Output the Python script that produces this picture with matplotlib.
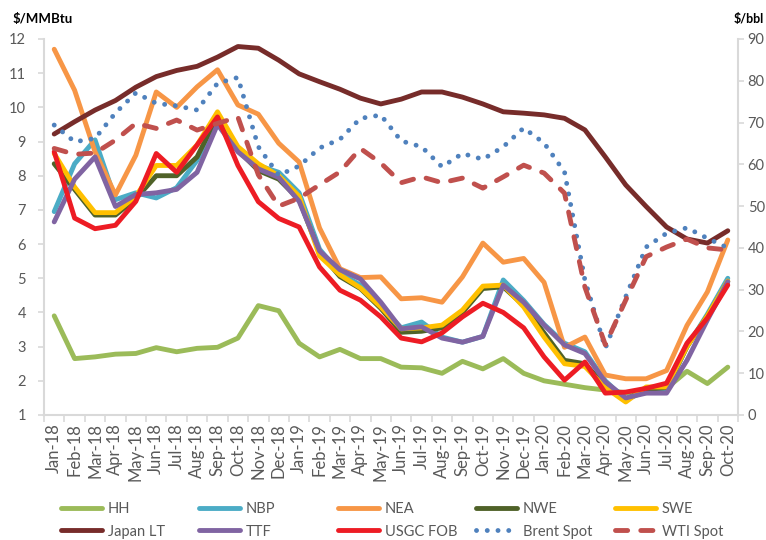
import numpy as np
import matplotlib.pyplot as plt

plt.rcParams['font.family'] = ['Lato', 'DejaVu Sans']

# ---- data: monthly prices ----
months = ['Jan-18', 'Feb-18', 'Mar-18', 'Apr-18', 'May-18', 'Jun-18', 'Jul-18', 'Aug-18',
          'Sep-18', 'Oct-18', 'Nov-18', 'Dec-18', 'Jan-19', 'Feb-19', 'Mar-19', 'Apr-19',
          'May-19', 'Jun-19', 'Jul-19', 'Aug-19', 'Sep-19', 'Oct-19', 'Nov-19', 'Dec-19',
          'Jan-20', 'Feb-20', 'Mar-20', 'Apr-20', 'May-20', 'Jun-20', 'Jul-20', 'Aug-20',
          'Sep-20', 'Oct-20']

# gas, $/MMBtu (left axis)
hh = [3.9, 2.65, 2.7, 2.78, 2.8, 2.97, 2.85, 2.95, 2.98, 3.25, 4.2, 4.05, 3.1, 2.7, 2.92, 2.65, 2.65,
      2.4, 2.38, 2.22, 2.57, 2.35, 2.65, 2.22, 2.0, 1.9, 1.8, 1.73, 1.65, 1.65, 1.78, 2.28, 1.92, 2.4]
nbp = [6.95, 8.35, 9.05, 7.3, 7.5, 7.35, 7.65, 8.45, 9.6, 8.75, 8.3, 8.1, 7.5, 5.85, 5.15, 4.8, 4.16,
       3.55, 3.72, 3.28, 3.13, 3.3, 4.95, 4.35, 3.65, 3.1, 2.85, 2.0, 1.45, 1.7, 1.75, 3.0, 3.95, 5.0]
nea = [11.7, 10.5, 8.7, 7.44, 8.6, 10.45, 10.0, 10.6, 11.1, 10.07, 9.8, 8.95, 8.4, 6.47, 5.28, 5.02,
       5.04, 4.4, 4.43, 4.3, 5.04, 6.03, 5.47, 5.58, 4.88, 2.98, 3.28, 2.17, 2.06, 2.06, 2.3, 3.62,
       4.6, 6.12]
nwe = [8.35, 7.6, 6.85, 6.85, 7.33, 8.0, 8.0, 8.55, 9.75, 8.75, 8.15, 7.9, 7.3, 5.75, 5.05, 4.7,
       4.12, 3.42, 3.45, 3.55, 4.0, 4.7, 4.75, 4.2, 3.4, 2.6, 2.5, 1.85, 1.45, 1.75, 1.8, 3.0, 3.9, 4.9]
swe = [8.65, 7.67, 6.92, 6.92, 7.4, 8.3, 8.3, 8.9, 9.87, 8.85, 8.35, 8.0, 7.4, 5.65, 5.1, 4.72,
       4.16, 3.52, 3.55, 3.63, 4.07, 4.77, 4.8, 4.16, 3.28, 2.5, 2.42, 1.8, 1.38, 1.82, 1.82, 3.0,
       3.9, 4.92]
japan_lt = [9.22, 9.58, 9.92, 10.2, 10.59, 10.9, 11.08, 11.2, 11.47, 11.78, 11.73, 11.38, 10.98,
            10.75, 10.53, 10.27, 10.1, 10.24, 10.45, 10.45, 10.3, 10.1, 9.87, 9.83, 9.78, 9.68,
            9.34, 8.55, 7.73, 7.1, 6.5, 6.15, 6.03, 6.39]
ttf = [6.65, 7.9, 8.55, 7.1, 7.45, 7.5, 7.6, 8.1, 9.5, 8.7, 8.2, 7.95, 7.25, 5.8, 5.25, 4.98, 4.3,
       3.52, 3.58, 3.25, 3.13, 3.3, 4.8, 4.3, 3.63, 3.05, 2.8, 1.97, 1.5, 1.64, 1.64, 2.6, 3.78, 4.9]
usgc_fob = [8.7, 6.76, 6.45, 6.55, 7.25, 8.65, 8.1, 8.9, 9.72, 8.3, 7.24, 6.75, 6.5, 5.33, 4.65,
            4.36, 3.87, 3.25, 3.14, 3.4, 3.87, 4.27, 4.0, 3.55, 2.7, 2.02, 2.55, 1.64, 1.67, 1.78,
            1.93, 3.1, 3.84, 4.8]

# crude, $/bbl (right axis)
brent = [69.4, 65.4, 66.2, 72.3, 77.1, 74.6, 74.0, 73.0, 79.4, 80.8, 64.2, 57.4, 59.6, 63.9, 66.0,
         71.0, 71.8, 65.6, 64.2, 59.4, 62.6, 61.2, 64.2, 68.7, 65.1, 58.2, 32.3, 16.0, 28.3, 40.2,
         43.5, 44.8, 42.3, 40.0]
wti = [63.8, 62.4, 62.7, 65.8, 69.8, 68.6, 70.6, 68.2, 69.8, 71.3, 57.5, 50.0, 51.9, 55.1, 58.2,
       63.8, 60.3, 55.6, 57.0, 55.6, 56.7, 54.3, 57.0, 59.8, 57.9, 53.1, 30.6, 16.8, 27.5, 37.9,
       40.2, 42.1, 40.0, 39.5]

W, H = 766, 540
fig = plt.figure(figsize=(W / 100, H / 100), dpi=100)
ax = fig.add_axes([44 / W, 1 - 415 / H, (738 - 44) / W, (415 - 39) / H])
ax2 = ax.twinx()

x = np.arange(len(months))
LW = 3.5
grey = '#D9D9D9'
txt = '#595959'

gas = [('HH', hh, '#9BBB59'), ('NBP', nbp, '#4BACC6'), ('NEA', nea, '#F79646'),
       ('NWE', nwe, '#4F6228'), ('SWE', swe, '#FFC000'), ('Japan LT', japan_lt, '#772C2A'),
       ('TTF', ttf, '#8064A2'), ('USGC FOB', usgc_fob, '#ED1C24')]
lines = {}
for name, vals, col in gas:
    ln, = ax.plot(x, vals, color=col, lw=LW, solid_joinstyle='round',
                  solid_capstyle='round', label=name)
    lines[name] = ln

ln, = ax2.plot(x, brent, color='#4F81BD', lw=LW, linestyle=(0, (0.01, 2.2)),
               dash_capstyle='round', label='Brent Spot')
lines['Brent Spot'] = ln
ln, = ax2.plot(x, wti, color='#C0504D', lw=LW, linestyle=(0, (2.5, 2.7)),
               dash_capstyle='round', dash_joinstyle='round', label='WTI Spot')
lines['WTI Spot'] = ln

# axes limits / ticks
ax.set_xlim(-0.5, len(months) - 0.5)
ax.set_ylim(1, 12)
ax.set_yticks(range(1, 13))
ax2.set_ylim(0, 90)
ax2.set_yticks(range(0, 91, 10))

ax.set_xticks(x, months, rotation=90)
ax.set_xticks(np.arange(-0.5, len(months), 1), minor=True)
ax.tick_params(axis='x', which='major', length=0, pad=6, labelsize=12, labelcolor=txt)
ax.tick_params(axis='x', which='minor', length=5, width=1.2, color=grey)
ax.tick_params(axis='y', length=4, width=1.2, color=grey, pad=9, labelsize=10.5,
               labelcolor=txt)
ax2.tick_params(axis='y', length=4, width=1.2, color=grey, pad=3, labelsize=10.5,
                labelcolor=txt)

for s in ['top', 'right']:
    ax.spines[s].set_visible(False)
for s in ['left', 'bottom']:
    ax.spines[s].set_color(grey)
    ax.spines[s].set_linewidth(1.5)
for s in ['top', 'left', 'bottom']:
    ax2.spines[s].set_visible(False)
ax2.spines['right'].set_color(grey)
ax2.spines['right'].set_linewidth(1.5)

fig.text(13 / W, 1 - 19 / H, '$/MMBtu', fontsize=9.5, fontweight='bold', va='center', ha='left')
fig.text(764 / W, 1 - 19 / H, '$/bbl', fontsize=9, fontweight='bold', va='center', ha='right')

# legend: five columns, two rows
cols = [('HH', 'Japan LT'), ('NBP', 'TTF'), ('NEA', 'USGC FOB'),
        ('NWE', 'Brent Spot'), ('SWE', 'WTI Spot')]
col_x = [61, 199, 338, 476, 615]
for (a, b), cx in zip(cols, col_x):
    fig.legend([lines[a], lines[b]], [a, b], loc='center left',
               bbox_to_anchor=(cx / W, 1 - 520.5 / H), frameon=False, borderpad=0,
               borderaxespad=0, handlelength=2.8, handletextpad=0.4, labelspacing=0.55,
               fontsize=10.5, labelcolor=txt)

fig.savefig('out.png', dpi=100)
